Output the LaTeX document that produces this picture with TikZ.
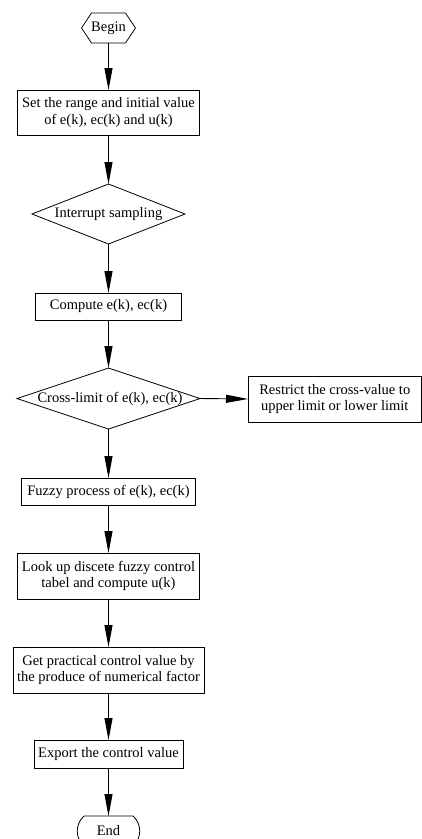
\documentclass[tikz,border=0pt]{standalone}
\usepackage{fontspec}
\setmainfont{Liberation Serif}
\usetikzlibrary{arrows.meta,shapes.geometric}
\begin{document}
\begin{tikzpicture}[x=1pt,y=-1pt,
  every node/.style={font=\fontsize{14.5}{16.5}\selectfont, inner sep=0pt, outer sep=0pt},
  procbox/.style={draw, line width=0.8pt, rectangle, align=center},
  diabox/.style={draw, line width=0.8pt, diamond},
  plain/.style={draw=none},
  flow/.style={line width=0.9pt, -{Triangle[length=22pt,width=8pt]}},
  outline/.style={line width=0.8pt}]
\useasboundingbox (0,0) rectangle (422,839);
\clip (0,0) rectangle (422,839);
% Begin hexagon
\node[plain, minimum width=54pt, minimum height=30pt] (begin) at (108.5,28) {Begin};
\draw[outline] ([xshift=10pt]begin.north west) -- ([xshift=-10pt]begin.north east) -- (begin.east)
  -- ([xshift=-10pt]begin.south east) -- ([xshift=10pt]begin.south west) -- (begin.west) -- cycle;
% boxes
\node[procbox, minimum width=182pt, minimum height=45pt] (b1) at (108.5,112.5) {Set the range and initial value\\of e(k), ec(k) and u(k)};
\node[diabox, minimum width=153pt, minimum height=60pt] (d1) at (108.5,214) {};
\node[plain] (d1t) at (108.5,214) {Interrupt sampling};
\node[procbox, minimum width=146pt, minimum height=27pt] (b2) at (108.5,306.5) {Compute e(k), ec(k)};
\node[diabox, minimum width=183pt, minimum height=61pt] (d2) at (108.5,398.5) {};
\node[plain] (d2t) at (110,398.5) {Cross-limit of e(k), ec(k)};
\node[procbox, minimum width=173.5pt, minimum height=46pt] (r) at (334.75,399) {Restrict the cross-value to\\upper limit or lower limit};
\node[procbox, minimum width=174pt, minimum height=27pt] (b3) at (108.5,491.5) {Fuzzy process of e(k), ec(k)};
\node[procbox, minimum width=182pt, minimum height=46pt] (b4) at (108.5,576) {Look up discete fuzzy control\\tabel and compute u(k)};
\node[procbox, minimum width=191pt, minimum height=46pt] (b5) at (108.5,670) {Get practical control value by\\the produce of numerical factor};
\node[procbox, minimum width=149pt, minimum height=28pt] (b6) at (108.5,754) {Export the control value};
% End terminal
\node[plain, minimum width=49pt, minimum height=30pt] (end) at (108.5,831) {End};
\draw[outline] (end.north west) -- (end.north east)
  .. controls +(9,8) and +(9,-8) .. (end.south east) -- (end.south west)
  .. controls +(-9,-8) and +(-9,8) .. (end.north west);
% connectors
\draw[flow] (begin.south) -- (b1.north);
\draw[flow] (b1.south) -- (d1.north);
\draw[flow] (d1.south) -- (b2.north);
\draw[flow] (b2.south) -- (d2.north);
\draw[flow] (d2.east) -- (r.west);
\draw[flow] (d2.south) -- (b3.north);
\draw[flow] (b3.south) -- (b4.north);
\draw[flow] (b4.south) -- (b5.north);
\draw[flow] (b5.south) -- (b6.north);
\draw[flow] (b6.south) -- (end.north);
\end{tikzpicture}
\end{document}
